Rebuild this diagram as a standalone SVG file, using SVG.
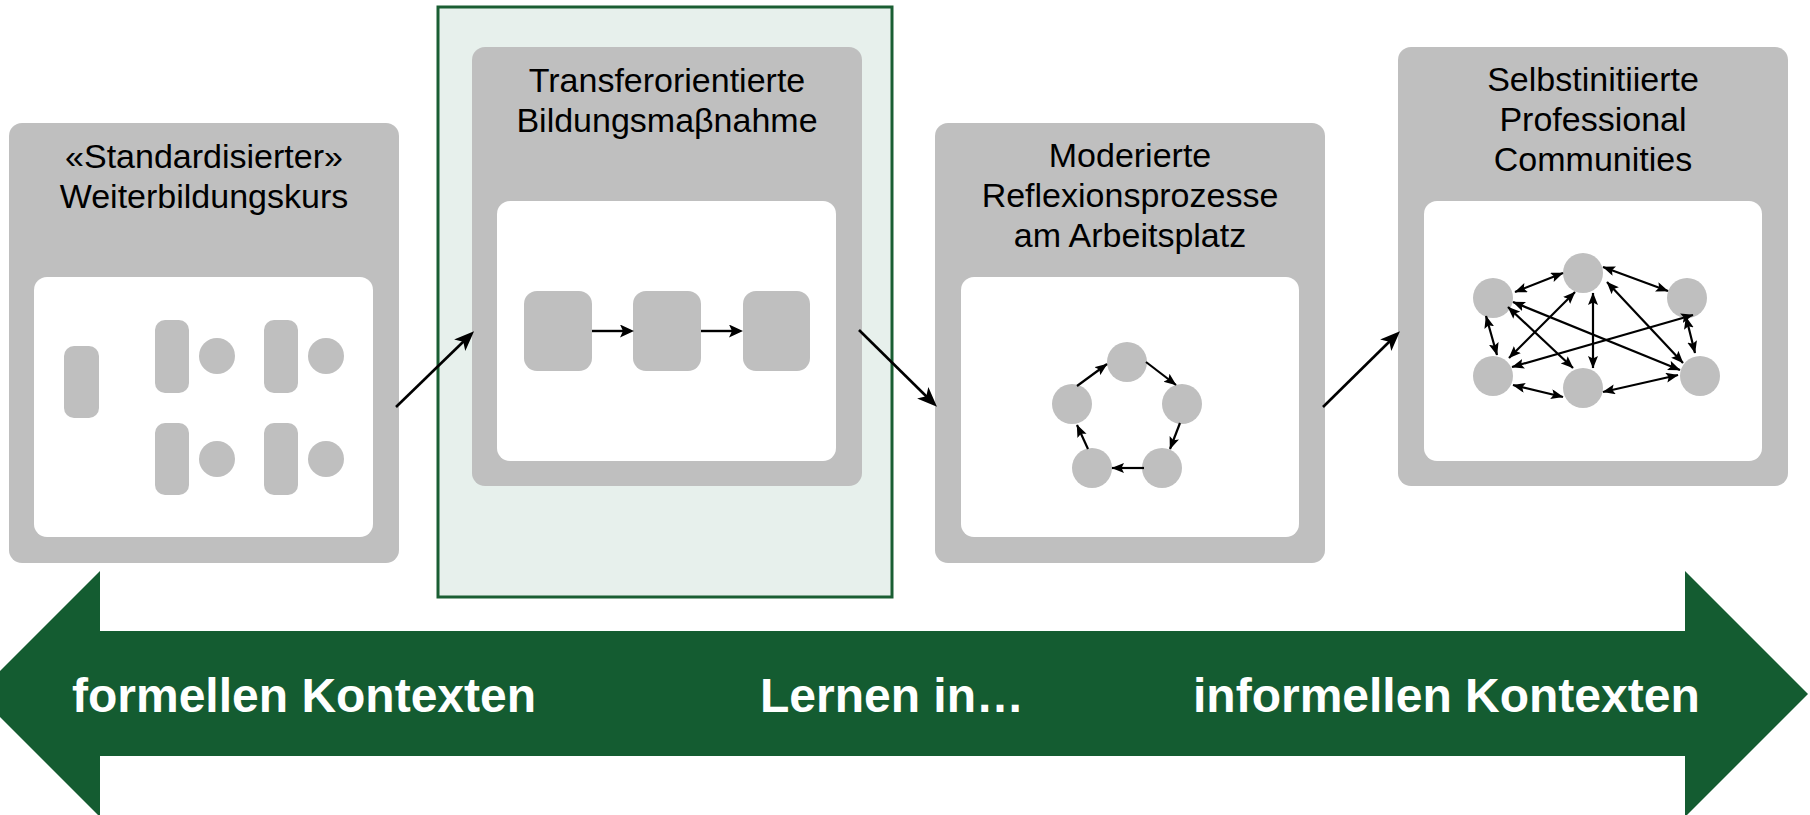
<svg xmlns="http://www.w3.org/2000/svg" width="1810" height="815" viewBox="0 0 1810 815">
<style>
.box{fill:#bfbfbf}
.inner{fill:#ffffff}
.shape{fill:#bfbfbf}
.title{font-family:"Liberation Sans",Arial,sans-serif;font-size:34px;fill:#000;text-anchor:middle}
.band{font-family:"Liberation Sans",Arial,sans-serif;font-size:48px;font-weight:bold;fill:#ffffff}
.conn{stroke:#000;stroke-width:2.6;fill:none}
.small{stroke:#000;stroke-width:2.4;fill:none}
.net{stroke:#000;stroke-width:2.2;fill:none}
</style>
<defs>
<marker id="big" markerUnits="userSpaceOnUse" markerWidth="22" markerHeight="18" refX="6" refY="8" orient="auto">
<path d="M0,0 L20,8 L0,16 L5,8 z" fill="#000"/>
</marker>
<marker id="mid" markerUnits="userSpaceOnUse" markerWidth="16" markerHeight="14" refX="4" refY="6.5" orient="auto">
<path d="M0,0 L14,6.5 L0,13 L3,6.5 z" fill="#000"/>
</marker>
<marker id="tiny" markerUnits="userSpaceOnUse" markerWidth="14" markerHeight="11" refX="12" refY="5" orient="auto-start-reverse">
<path d="M0,0 L12.5,5 L0,10 L2.5,5 z" fill="#000"/>
</marker>
</defs>

<g id="band">
<polygon points="-23,694 100,571 100,631 1685,631 1685,571 1808,694 1685,817 1685,756 100,756 100,817" fill="#145c31"/>
<text class="band" x="72" y="712">formellen Kontexten</text>
<text class="band" x="760" y="712">Lernen in…</text>
<text class="band" x="1193" y="712">informellen Kontexten</text>
</g>

<g id="highlight">
<rect x="438" y="7" width="454" height="590" fill="#e7f0ec" stroke="#1a5e33" stroke-width="3"/>
</g>

<g id="node1">
<rect class="box" x="9" y="123" width="390" height="440" rx="13"/>
<text class="title" x="204" y="168">«Standardisierter»</text>
<text class="title" x="204" y="208">Weiterbildungskurs</text>
<rect class="inner" x="34" y="277" width="339" height="260" rx="13"/>
<rect class="shape" x="64" y="346" width="35" height="72" rx="10"/>
<rect class="shape" x="155" y="320" width="34" height="73" rx="10"/>
<rect class="shape" x="264" y="320" width="34" height="73" rx="10"/>
<rect class="shape" x="155" y="423" width="34" height="72" rx="10"/>
<rect class="shape" x="264" y="423" width="34" height="72" rx="10"/>
<circle class="shape" cx="217" cy="356" r="18"/>
<circle class="shape" cx="326" cy="356" r="18"/>
<circle class="shape" cx="217" cy="459" r="18"/>
<circle class="shape" cx="326" cy="459" r="18"/>
</g>

<g id="node2">
<rect class="box" x="472" y="47" width="390" height="439" rx="13"/>
<text class="title" x="667" y="92">Transferorientierte</text>
<text class="title" x="667" y="132">Bildungsmaβnahme</text>
<rect class="inner" x="497" y="201" width="339" height="260" rx="13"/>
<rect class="shape" x="524" y="291" width="68" height="80" rx="13"/>
<rect class="shape" x="633" y="291" width="68" height="80" rx="13"/>
<rect class="shape" x="743" y="291" width="67" height="80" rx="13"/>
<line class="small" x1="592" y1="331" x2="624" y2="331" marker-end="url(#mid)"/>
<line class="small" x1="701" y1="331" x2="733" y2="331" marker-end="url(#mid)"/>
</g>

<g id="node3">
<rect class="box" x="935" y="123" width="390" height="440" rx="13"/>
<text class="title" x="1130" y="167">Moderierte</text>
<text class="title" x="1130" y="207">Reflexionsprozesse</text>
<text class="title" x="1130" y="247">am Arbeitsplatz</text>
<rect class="inner" x="961" y="277" width="338" height="260" rx="13"/>
<circle class="shape" cx="1127" cy="362" r="20"/>
<circle class="shape" cx="1182" cy="404" r="20"/>
<circle class="shape" cx="1072" cy="404" r="20"/>
<circle class="shape" cx="1162" cy="468" r="20"/>
<circle class="shape" cx="1092" cy="468" r="20"/>
<line class="net" x1="1077" y1="386" x2="1107" y2="364" marker-end="url(#tiny)"/>
<line class="net" x1="1146" y1="362" x2="1176" y2="385" marker-end="url(#tiny)"/>
<line class="net" x1="1180" y1="423" x2="1170" y2="449" marker-end="url(#tiny)"/>
<line class="net" x1="1144" y1="468" x2="1112" y2="468" marker-end="url(#tiny)"/>
<line class="net" x1="1088" y1="449" x2="1077" y2="425" marker-end="url(#tiny)"/>
</g>

<g id="node4">
<rect class="box" x="1398" y="47" width="390" height="439" rx="13"/>
<text class="title" x="1593" y="91">Selbstinitiierte</text>
<text class="title" x="1593" y="131">Professional</text>
<text class="title" x="1593" y="171">Communities</text>
<rect class="inner" x="1424" y="201" width="338" height="260" rx="13"/>
<circle class="shape" cx="1493" cy="298" r="20"/>
<circle class="shape" cx="1583" cy="273" r="20"/>
<circle class="shape" cx="1687" cy="298" r="20"/>
<circle class="shape" cx="1493" cy="376" r="20"/>
<circle class="shape" cx="1583" cy="388" r="20"/>
<circle class="shape" cx="1700" cy="376" r="20"/>
<line class="net" x1="1515" y1="292" x2="1563" y2="273" marker-start="url(#tiny)" marker-end="url(#tiny)"/>
<line class="net" x1="1603" y1="267" x2="1668" y2="291" marker-start="url(#tiny)" marker-end="url(#tiny)"/>
<line class="net" x1="1486" y1="316" x2="1497" y2="355" marker-start="url(#tiny)" marker-end="url(#tiny)"/>
<line class="net" x1="1508" y1="307" x2="1573" y2="368" marker-start="url(#tiny)" marker-end="url(#tiny)"/>
<line class="net" x1="1513" y1="302" x2="1680" y2="370" marker-start="url(#tiny)" marker-end="url(#tiny)"/>
<line class="net" x1="1509" y1="358" x2="1575" y2="292" marker-start="url(#tiny)" marker-end="url(#tiny)"/>
<line class="net" x1="1593" y1="293" x2="1593" y2="368" marker-start="url(#tiny)" marker-end="url(#tiny)"/>
<line class="net" x1="1607" y1="282" x2="1683" y2="363" marker-start="url(#tiny)" marker-end="url(#tiny)"/>
<line class="net" x1="1693" y1="315" x2="1512" y2="367" marker-start="url(#tiny)" marker-end="url(#tiny)"/>
<line class="net" x1="1686" y1="317" x2="1695" y2="353" marker-start="url(#tiny)" marker-end="url(#tiny)"/>
<line class="net" x1="1513" y1="385" x2="1563" y2="397" marker-start="url(#tiny)" marker-end="url(#tiny)"/>
<line class="net" x1="1603" y1="392" x2="1678" y2="375" marker-start="url(#tiny)" marker-end="url(#tiny)"/>
</g>

<g id="connectors">
<line class="conn" x1="396" y1="407" x2="464" y2="341" marker-end="url(#big)"/>
<line class="conn" x1="859" y1="330" x2="927" y2="397" marker-end="url(#big)"/>
<line class="conn" x1="1323" y1="407" x2="1390" y2="341" marker-end="url(#big)"/>
</g>
</svg>
